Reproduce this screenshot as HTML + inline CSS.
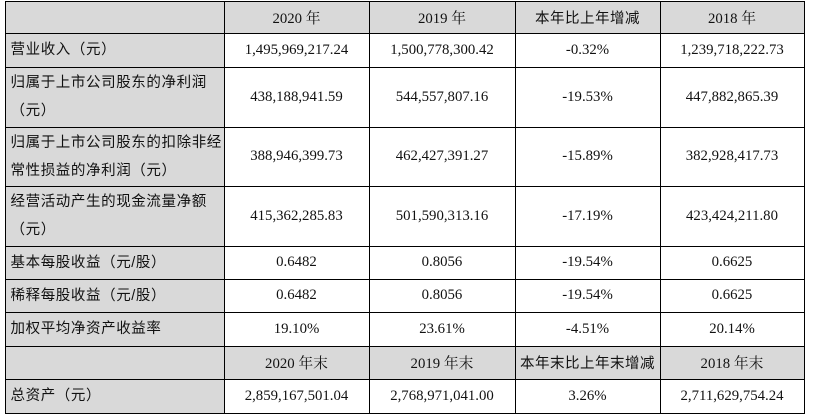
<!DOCTYPE html>
<html><head><meta charset="utf-8"><style>
body{margin:0;width:814px;height:419px;background:#fff;position:relative;overflow:hidden;font-family:"Liberation Serif","Noto Serif CJK SC",serif;font-size:14.8px;color:#111}
.c{position:absolute;box-sizing:border-box;border:1px solid #000;display:flex;align-items:center;justify-content:center;text-align:center;margin:-0.5px}
.g{background:#d9d9d9}
.l{justify-content:flex-start;text-align:left;padding-left:5px;line-height:28px;font-family:"Liberation Sans","Noto Sans CJK SC",sans-serif;letter-spacing:0.6px;font-size:14.5px}
.h{font-family:"Liberation Serif","Noto Serif CJK SC",serif}
.h2{font-family:"Liberation Sans","Noto Sans CJK SC",sans-serif;letter-spacing:0.5px;font-size:14.5px}
</style></head><body>
<div id="t"></div>
<script>
const xs=[5,224,369,515,660,804];
const ys=[1,33,67,127,186,246,279,312,346,379,413];
const rows=[
 [["",1],["2020 年",1,"h"],["2019 年",1,"h"],["本年比上年增减",1,"h2"],["2018 年",1,"h"]],
 [["营业收入（元）"],["1,495,969,217.24"],["1,500,778,300.42"],["-0.32%"],["1,239,718,222.73"]],
 [["归属于上市公司股东的净利润<br>（元）"],["438,188,941.59"],["544,557,807.16"],["-19.53%"],["447,882,865.39"]],
 [["归属于上市公司股东的扣除非经<br>常性损益的净利润（元）"],["388,946,399.73"],["462,427,391.27"],["-15.89%"],["382,928,417.73"]],
 [["经营活动产生的现金流量净额<br>（元）"],["415,362,285.83"],["501,590,313.16"],["-17.19%"],["423,424,211.80"]],
 [["基本每股收益（元/股）"],["0.6482"],["0.8056"],["-19.54%"],["0.6625"]],
 [["稀释每股收益（元/股）"],["0.6482"],["0.8056"],["-19.54%"],["0.6625"]],
 [["加权平均净资产收益率"],["19.10%"],["23.61%"],["-4.51%"],["20.14%"]],
 [["",1],["2020 年末",1,"h"],["2019 年末",1,"h"],["本年末比上年末增减",1,"h2"],["2018 年末",1,"h"]],
 [["总资产（元）"],["2,859,167,501.04"],["2,768,971,041.00"],["3.26%"],["2,711,629,754.24"]]
];
const t=document.getElementById('t');
rows.forEach((r,i)=>{r.forEach((cell,j)=>{
 const d=document.createElement('div');
 d.className='c'+((j==0||cell[1])?' g':'')+(j==0?' l':'')+(cell[2]?' '+cell[2]:'');
 d.style.left=xs[j]+'px';d.style.top=ys[i]+'px';
 d.style.width=(xs[j+1]-xs[j]+1)+'px';d.style.height=(ys[i+1]-ys[i]+1)+'px';
 d.innerHTML=cell[0];
 
 
 t.appendChild(d);
});});
</script>
</body></html>
